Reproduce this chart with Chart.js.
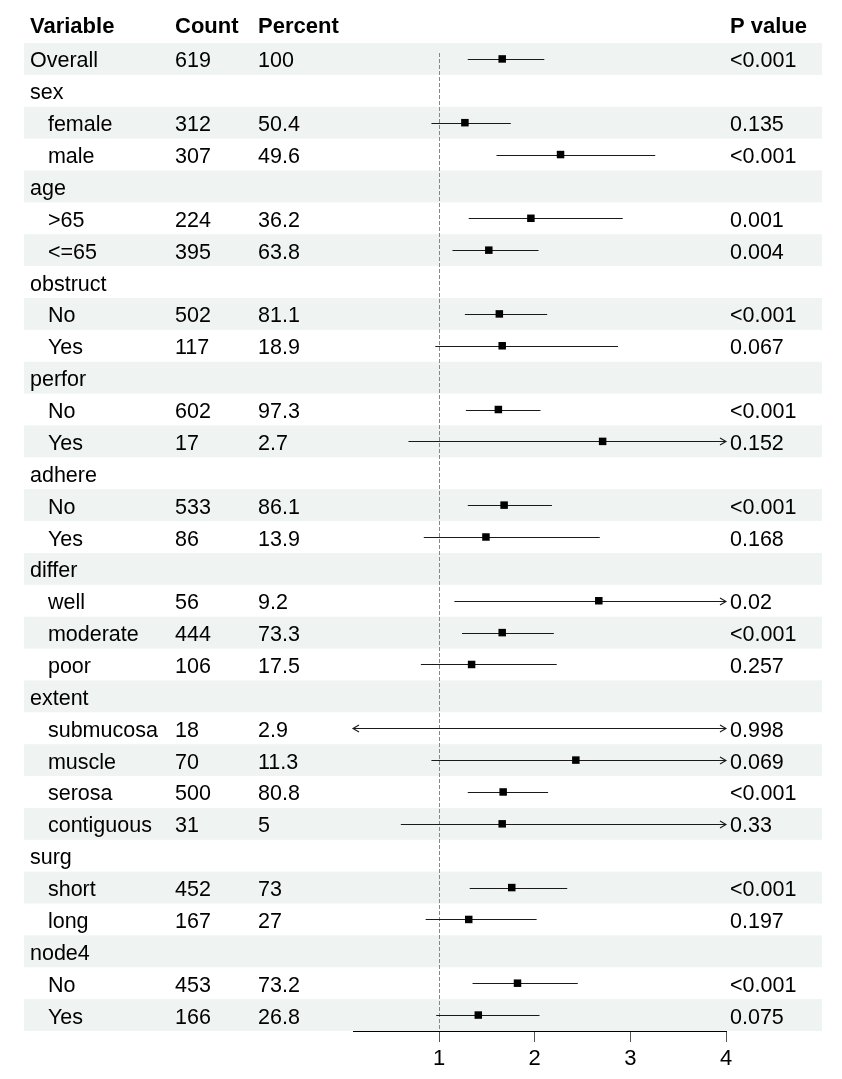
<!DOCTYPE html>
<html>
<head>
<meta charset="utf-8">
<script src="https://cdn.jsdelivr.net/npm/chart.js@4.4.1/dist/chart.umd.min.js"></script>
<style>
  html, body { margin: 0; padding: 0; background: #fff; }
  #wrap { width: 842px; height: 1079px; }
</style>
</head>
<body>
<div id="wrap"><canvas id="forest" width="842" height="1079"></canvas></div>
<script>
// table columns, one entry per row (top to bottom)
const LABELS = ["Overall", "sex", "   female", "   male", "age", "   >65", "   <=65",
  "obstruct", "   No", "   Yes", "perfor", "   No", "   Yes", "adhere", "   No", "   Yes",
  "differ", "   well", "   moderate", "   poor", "extent", "   submucosa", "   muscle",
  "   serosa", "   contiguous", "surg", "   short", "   long", "node4", "   No", "   Yes"];
const COUNTS = ["619", "", "312", "307", "", "224", "395", "", "502", "117", "", "602", "17",
  "", "533", "86", "", "56", "444", "106", "", "18", "70", "500", "31", "", "452", "167",
  "", "453", "166"];
const PERCENTS = ["100", "", "50.4", "49.6", "", "36.2", "63.8", "", "81.1", "18.9", "",
  "97.3", "2.7", "", "86.1", "13.9", "", "9.2", "73.3", "17.5", "", "2.9", "11.3", "80.8",
  "5", "", "73", "27", "", "73.2", "26.8"];
const PVALUES = ["<0.001", "", "0.135", "<0.001", "", "0.001", "0.004", "", "<0.001", "0.067",
  "", "<0.001", "0.152", "", "<0.001", "0.168", "", "0.02", "<0.001", "0.257", "", "0.998",
  "0.069", "<0.001", "0.33", "", "<0.001", "0.197", "", "<0.001", "0.075"];

// hazard ratio with 95% CI (null = group header row)
const EST = [1.66, null, 1.27, 2.27, null, 1.96, 1.52, null, 1.63, 1.66, null, 1.62, 2.71,
  null, 1.68, 1.49, null, 2.67, 1.66, 1.34, null, 0.05, 2.43, 1.67, 1.66, null, 1.76, 1.31,
  null, 1.82, 1.41];
const LOWER = [1.30, null, 0.92, 1.60, null, 1.31, 1.14, null, 1.27, 0.96, null, 1.28, 0.68,
  null, 1.30, 0.84, null, 1.16, 1.24, 0.81, null, 0.001, 0.92, 1.30, 0.60, null, 1.32, 0.86,
  null, 1.35, 0.97];
const UPPER = [2.10, null, 1.75, 3.26, null, 2.92, 2.04, null, 2.13, 2.87, null, 2.06, 10.8,
  null, 2.18, 2.68, null, 6.15, 2.20, 2.23, null, 1000, 6.40, 2.14, 4.60, null, 2.34, 2.02,
  null, 2.45, 2.05];

const HEADERS = ["Variable", "Count", "Percent", "P value"];
const X_TICKS = [1, 2, 3, 4];

const FONT = "'Liberation Sans', Arial, sans-serif";
const BAND = "#eff3f2";

const tablePlugin = {
  id: "table",
  beforeDraw(chart) {
    const { ctx, scales: { y } } = chart;
    ctx.save();
    ctx.fillStyle = BAND;
    LABELS.forEach((_, i) => {
      if (i % 2 !== 0) return;
      const top = y.getPixelForValue(i - 0.5);
      const bot = y.getPixelForValue(i + 0.5);
      ctx.fillRect(24, top, 822 - 24, bot - top);
    });
    ctx.restore();
  },
  beforeDatasetsDraw(chart) {
    const { ctx, chartArea, scales: { x, y } } = chart;
    ctx.save();
    // reference line at HR = 1
    const rx = Math.round(x.getPixelForValue(1)) + 0.5;
    ctx.strokeStyle = "#888";
    ctx.lineWidth = 1;
    ctx.setLineDash([4, 2]);
    ctx.beginPath();
    ctx.moveTo(rx, chartArea.top + 10);
    ctx.lineTo(rx, chartArea.bottom);
    ctx.stroke();
    ctx.setLineDash([]);

    // confidence intervals, with arrows when cut by the axis limits
    ctx.strokeStyle = "#1a1a1a";
    ctx.lineWidth = 1.1;
    EST.forEach((e, i) => {
      if (e === null) return;
      const py = Math.round(y.getPixelForValue(i)) + 0.5;
      const lo = LOWER[i], hi = UPPER[i];
      const x1 = x.getPixelForValue(Math.max(lo, x.min));
      const x2 = x.getPixelForValue(Math.min(hi, x.max));
      ctx.beginPath();
      ctx.moveTo(x1, py);
      ctx.lineTo(x2, py);
      if (hi > x.max) {
        ctx.moveTo(x2 - 6, py - 3.5);
        ctx.lineTo(x2, py);
        ctx.lineTo(x2 - 6, py + 3.5);
      }
      if (lo < x.min) {
        ctx.moveTo(x1 + 6, py - 3.5);
        ctx.lineTo(x1, py);
        ctx.lineTo(x1 + 6, py + 3.5);
      }
      ctx.stroke();
    });
    ctx.restore();
  },
  afterDraw(chart) {
    const { ctx, scales: { y } } = chart;
    ctx.save();
    ctx.fillStyle = "#000";
    ctx.textBaseline = "alphabetic";
    ctx.textAlign = "left";

    ctx.font = "bold 22px " + FONT;
    ctx.fillText(HEADERS[0], 30, 33);
    ctx.fillText(HEADERS[1], 175, 33);
    ctx.fillText(HEADERS[2], 258, 33);
    ctx.fillText(HEADERS[3], 730, 33);

    ctx.font = "21.5px " + FONT;
    LABELS.forEach((lab, i) => {
      const by = y.getPixelForValue(i) + 8.5;
      ctx.fillText(lab, 30, by);
      ctx.fillText(COUNTS[i], 175, by);
      ctx.fillText(PERCENTS[i], 258, by);
      ctx.fillText(PVALUES[i], 730, by);
    });
    ctx.restore();
  },
};

const points = [];
EST.forEach((e, i) => {
  if (e !== null) points.push({ x: e, y: i });
});

new Chart(document.getElementById("forest").getContext("2d"), {
  type: "scatter",
  data: {
    datasets: [{
      data: points,
      pointStyle: "rect",
      pointRadius: 5.3,
      pointBackgroundColor: "#000",
      pointBorderWidth: 0,
    }],
  },
  plugins: [tablePlugin],
  options: {
    responsive: false,
    animation: false,
    events: [],
    layout: { padding: { left: 353, right: 116, top: 43, bottom: 0 } },
    scales: {
      x: {
        type: "linear",
        min: 0.1,
        max: 4,
        afterBuildTicks: (s) => { s.ticks = X_TICKS.map((v) => ({ value: v })); },
        afterFit: (s) => { s.height = 48; },
        ticks: {
          font: { family: FONT, size: 22 },
          color: "#000",
          padding: 4,
          maxRotation: 0,
          autoSkip: false,
        },
        grid: { drawOnChartArea: false, drawTicks: true, tickLength: 11, color: "#555" },
        border: { display: true, color: "#000", width: 1 },
      },
      y: {
        type: "linear",
        min: -0.5,
        max: LABELS.length - 0.5,
        reverse: true,
        display: false,
      },
    },
    plugins: {
      legend: { display: false },
      tooltip: { enabled: false },
    },
  },
});
</script>
</body>
</html>
